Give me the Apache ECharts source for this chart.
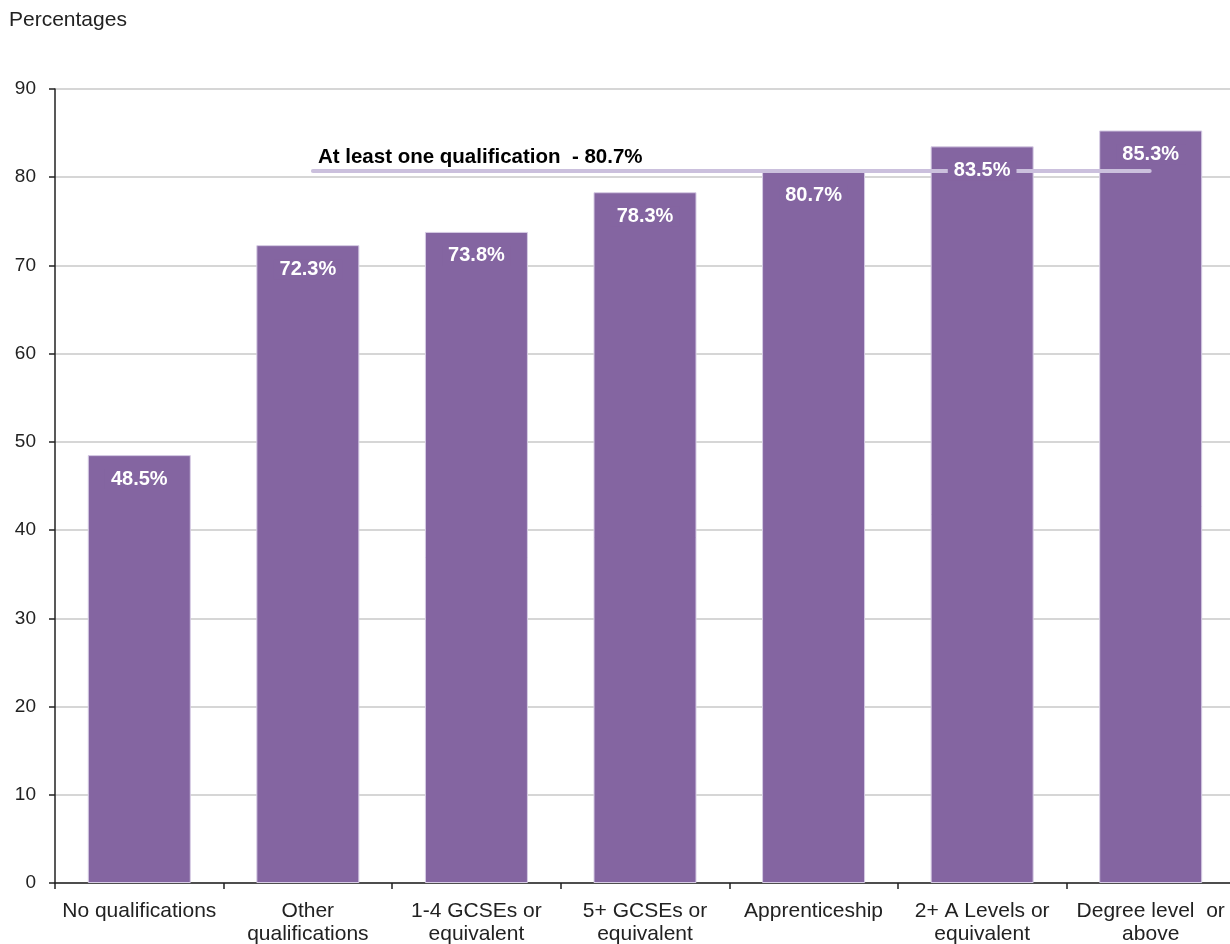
<!DOCTYPE html>
<html><head><meta charset="utf-8">
<script src="https://cdn.jsdelivr.net/npm/echarts@6/dist/echarts.min.js"></script>
<style>html,body{margin:0;padding:0;background:#fff}#c{width:1230px;height:944px}</style>
</head><body><div id="c"></div>
<script>
const categories = ["No qualifications", "Other\nqualifications", "1-4 GCSEs or\nequivalent", "5+ GCSEs or\nequivalent", "Apprenticeship", "2+ A Levels or\nequivalent", "Degree level  or\nabove"];
const values = [48.5, 72.3, 73.8, 78.3, 80.7, 83.5, 85.3];
const refValue = 80.7;
const refLabel = "At least one qualification  - 80.7%";
const refStartEnd = [1.53, 6.494]; // in category units along the axis
const yTicks = [0, 10, 20, 30, 40, 50, 60, 70, 80, 90];

const barColor = '#8465a1';
const font = '"Liberation Sans", Arial, sans-serif';
const chart = echarts.init(document.getElementById('c'), null, {renderer: 'canvas'});
chart.setOption({
  animation: false,
  title: {text: 'Percentages', left: 4, top: 5, textStyle: {fontFamily: font, fontSize: 21, fontWeight: 'normal', color: '#222'}},
  grid: {left: 55, top: 89, width: 1180, bottom: 61, containLabel: false, outerBoundsMode: 'none'},
  xAxis: [{
    type: 'category', data: categories,
    axisLine: {lineStyle: {color: '#222', width: 1.5}},
    axisTick: {show: true, length: 6, lineStyle: {color: '#222', width: 1.5}},
    axisLabel: {interval: 0, fontFamily: font, fontSize: 21, color: '#222', lineHeight: 23, margin: 17}
  }, {
    type: 'value', min: 0, max: 7, show: false
  }],
  yAxis: {
    type: 'value', min: 0, max: 90, interval: 10,
    axisLine: {show: true, lineStyle: {color: '#222', width: 1.5}},
    axisTick: {show: true, length: 6, lineStyle: {color: '#222', width: 1.5}},
    axisLabel: {fontFamily: font, fontSize: 19, color: '#222', margin: 19},
    splitLine: {lineStyle: {color: '#c8c8c8', width: 1.5}}
  },
  series: [{
    type: 'bar', data: values, barWidth: 103, z: 2,
    itemStyle: {color: barColor, borderColor: '#d6cce4', borderWidth: 1}
  }, {
    type: 'line', xAxisIndex: 1, yAxisIndex: 0, z: 3,
    data: [[refStartEnd[0], refValue], [refStartEnd[1], refValue]],
    symbol: 'none', showSymbol: false,
    lineStyle: {color: '#cbc0dd', width: 4, cap: 'round'}
  }, {
    type: 'scatter', xAxisIndex: 1, yAxisIndex: 0, z: 5,
    data: [[refStartEnd[0], refValue]],
    symbolSize: 1, itemStyle: {color: 'rgba(0,0,0,0)'},
    label: {show: true, formatter: refLabel, position: 'top', align: 'left', offset: [5, 2],
      fontFamily: font, fontSize: 20.5, fontWeight: 'bold', color: '#000', opacity: 1}
  }, {
    type: 'bar', data: values, barWidth: 103, barGap: '-100%', z: 4,
    itemStyle: {color: 'rgba(0,0,0,0)'},
    label: {show: true, position: 'insideTop', distance: 14, formatter: p => p.value.toFixed(1) + '%',
      fontFamily: font, fontSize: 20, fontWeight: 'bold', color: '#fff',
      backgroundColor: barColor, padding: [0, 6]}
  }]
});
</script></body></html>
